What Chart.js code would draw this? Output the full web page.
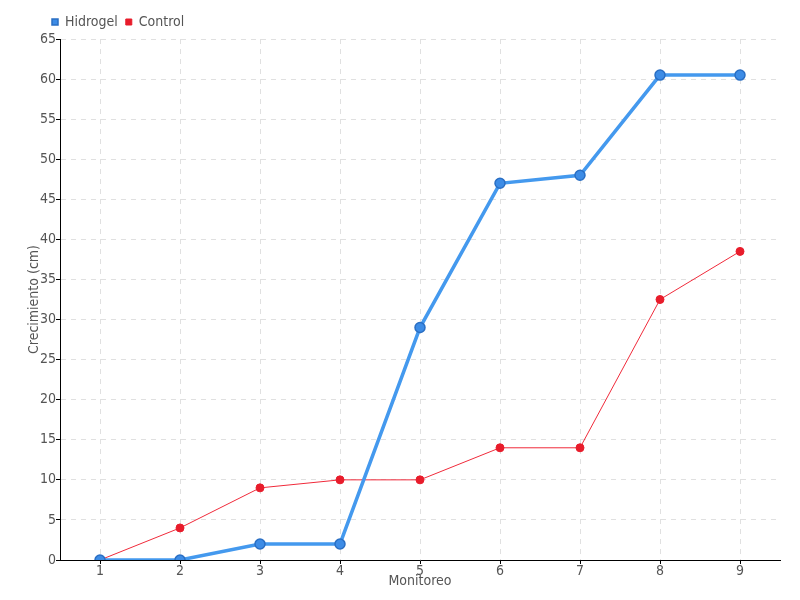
<!DOCTYPE html>
<html><head><meta charset="utf-8">
<script src="https://cdn.jsdelivr.net/npm/chart.js@4.4.0/dist/chart.umd.min.js"></script>
<style>html,body{margin:0;padding:0;background:#fff}#w{width:800px;height:600px}</style>
</head><body><div id="w"><canvas id="c" width="800" height="600"></canvas></div>
<script>
const categories = ['1','2','3','4','5','6','7','8','9'];
const hidrogel = [0, 0, 2, 2, 29, 47, 48, 60.5, 60.5];
const control = [0, 4, 9, 10, 10, 14, 14, 32.5, 38.5];
const FONT = "'DejaVu Sans Condensed', sans-serif";
Chart.defaults.font.family = FONT;
Chart.defaults.color = '#555';
const shiftLegend = {
  id: 'shiftLegend',
  afterLayout(chart) { if (chart.legend) { chart.legend.left += 18; } }
};
new Chart(document.getElementById('c'), {
  type: 'line',
  data: {
    labels: categories,
    datasets: [
      {label: 'Hidrogel', data: hidrogel, borderColor: '#4499ee', backgroundColor: '#3d8ce6',
       pointBorderColor: '#2a6fc4', pointBorderWidth: 1.5, borderWidth: 3.5, pointRadius: 5, tension: 0},
      {label: 'Control', data: control, borderColor: '#f02a3a', backgroundColor: '#e81c2b',
       pointBorderColor: '#e81c2b', borderWidth: 1, pointRadius: 4, tension: 0}
    ]
  },
  plugins: [shiftLegend],
  options: {
    responsive: false, animation: false,
    layout: {padding: {top: 7, right: 20, left: 26, bottom: 10}},
    plugins: {
      legend: {position: 'top', align: 'start',
        labels: {usePointStyle: true, pointStyle: 'rect', boxWidth: 6, boxHeight: 6, padding: 8,
          font: {size: 14}, color: '#555'}},
      tooltip: {enabled: false}
    },
    scales: {
      x: {offset: true,
        title: {display: true, text: 'Monitoreo', font: {size: 14}, color: '#555', padding: 0},
        grid: {offset: false, color: '#e0e0e0', tickColor: '#000', tickLength: 4, tickBorderDash: []},
        border: {color: '#000', width: 1, dash: [5,5]},
        ticks: {font: {size: 14}, color: '#555', padding: -1},
        afterFit: s => { s.height = 30; }
      },
      y: {min: 0, max: 65,
        title: {display: true, text: 'Crecimiento (cm)', font: {size: 14}, color: '#555', padding: 0},
        grid: {color: '#e0e0e0', tickColor: '#000', tickLength: 4, tickBorderDash: []},
        border: {color: '#000', width: 1, dash: [5,5]},
        ticks: {stepSize: 5, font: {size: 14}, color: '#555', padding: 0},
        afterFit: s => { s.width = 34; }
      }
    }
  }
});
</script></body></html>
